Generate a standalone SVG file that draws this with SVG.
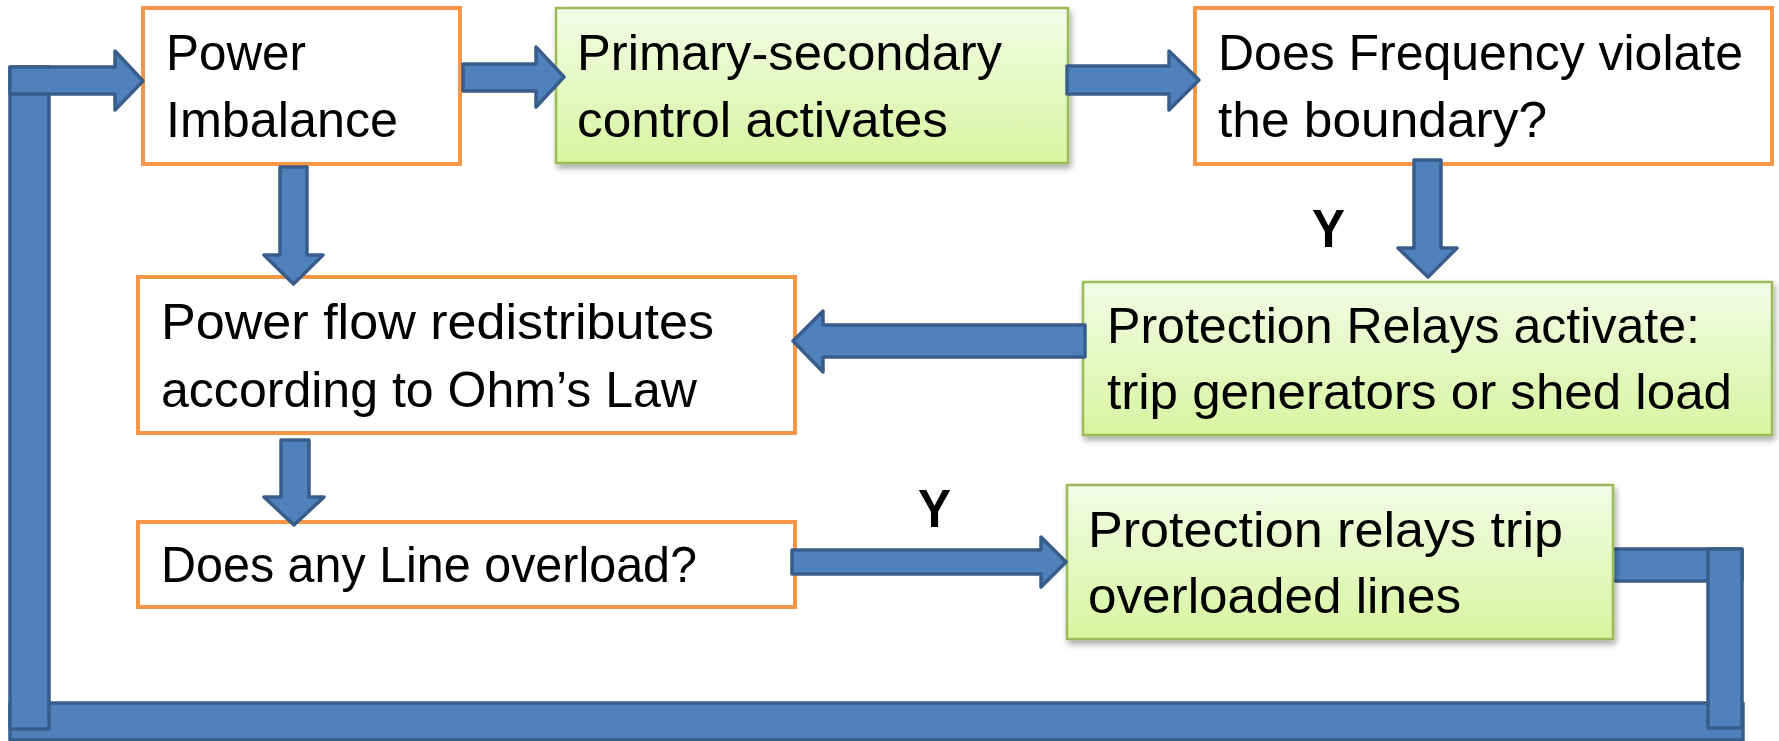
<svg xmlns="http://www.w3.org/2000/svg" width="1779" height="741" viewBox="0 0 1779 741">
<defs>
<linearGradient id="gg" x1="0" y1="0" x2="0" y2="1">
<stop offset="0" stop-color="#F3FBE6"/>
<stop offset="1" stop-color="#D7F5A0"/>
</linearGradient>
<filter id="sh" x="-5%" y="-10%" width="115%" height="130%">
<feGaussianBlur in="SourceAlpha" stdDeviation="3"/>
<feOffset dx="2" dy="4" result="b"/>
<feComponentTransfer><feFuncA type="linear" slope="0.35"/></feComponentTransfer>
<feMerge><feMergeNode/><feMergeNode in="SourceGraphic"/></feMerge>
</filter>
</defs>
<style>
.ob{fill:#FFFFFF;stroke:#F79646;stroke-width:4}
.gb{fill:url(#gg);stroke:#9BBB59;stroke-width:2.5;filter:url(#sh)}
.t{font-family:"Liberation Sans",Arial,sans-serif;font-size:50px;fill:#000000}
.y{font-family:"Liberation Sans",Arial,sans-serif;font-size:54px;font-weight:bold;fill:#000000}
.ar{fill:#4F81BD;stroke:#385D8A;stroke-width:3.5;stroke-linejoin:round}
</style>
<rect width="1779" height="741" fill="#FFFFFF"/>

<g id="loop-bars">
<rect class="ar" x="10" y="703" width="1733" height="37"/>
<rect class="ar" x="10" y="67" width="39" height="662"/>
<rect class="ar" x="1610" y="549" width="132" height="32"/>
<rect class="ar" x="1708" y="549" width="34" height="179"/>
</g>

<g id="node-power-imbalance">
<rect class="ob" x="143" y="8" width="317" height="156"/>
<text class="t" x="166" y="70" textLength="140" lengthAdjust="spacingAndGlyphs">Power</text>
<text class="t" x="166" y="137" textLength="232" lengthAdjust="spacingAndGlyphs">Imbalance</text>
</g>
<g id="node-primary-secondary">
<rect class="gb" x="556" y="8" width="512" height="155"/>
<text class="t" x="577" y="70" textLength="425" lengthAdjust="spacingAndGlyphs">Primary-secondary</text>
<text class="t" x="577" y="137" textLength="371" lengthAdjust="spacingAndGlyphs">control activates</text>
</g>
<g id="node-frequency">
<rect class="ob" x="1195" y="8" width="577" height="156"/>
<text class="t" x="1218" y="70" textLength="525" lengthAdjust="spacingAndGlyphs">Does Frequency violate</text>
<text class="t" x="1218" y="137" textLength="329" lengthAdjust="spacingAndGlyphs">the boundary?</text>
</g>
<g id="node-power-flow">
<rect class="ob" x="138" y="277" width="657" height="156"/>
<text class="t" x="161" y="339" textLength="553" lengthAdjust="spacingAndGlyphs">Power flow redistributes</text>
<text class="t" x="161" y="407" textLength="536" lengthAdjust="spacingAndGlyphs">according to Ohm’s Law</text>
</g>
<g id="node-relays-activate">
<rect class="gb" x="1083" y="282" width="689" height="153"/>
<text class="t" x="1107" y="343" textLength="593" lengthAdjust="spacingAndGlyphs">Protection Relays activate:</text>
<text class="t" x="1107" y="409" textLength="625" lengthAdjust="spacingAndGlyphs">trip generators or shed load</text>
</g>
<g id="node-line-overload">
<rect class="ob" x="138" y="522" width="657" height="85"/>
<text class="t" x="161" y="582" textLength="536" lengthAdjust="spacingAndGlyphs">Does any Line overload?</text>
</g>
<g id="node-relays-trip">
<rect class="gb" x="1067" y="485" width="546" height="154"/>
<text class="t" x="1088" y="547" textLength="475" lengthAdjust="spacingAndGlyphs">Protection relays trip</text>
<text class="t" x="1088" y="613" textLength="373" lengthAdjust="spacingAndGlyphs">overloaded lines</text>
</g>

<g id="connectors">
<polygon class="ar" points="10,67 115,67 115,51 143,81 115,110 115,94 10,94"/>
<polygon class="ar" points="463,64 536,64 536,47 564,77 536,107 536,91 463,91"/>
<polygon class="ar" points="1067,66 1169,66 1169,51 1199,80 1169,110 1169,94 1067,94"/>
<polygon class="ar" points="280,167 307,167 307,255 323,255 293.5,284 264,255 280,255"/>
<polygon class="ar" points="1414,160 1441,160 1441,248 1457,248 1428,277 1398,248 1414,248"/>
<polygon class="ar" points="1085,325 1085,357 823,357 823,372 793,341 823,311 823,325"/>
<polygon class="ar" points="281,440 309,440 309,497 324,497 294,525 264,497 281,497"/>
<polygon class="ar" points="792,550 1041,550 1041,537 1066,562 1041,587 1041,574 792,574"/>
<text class="y" x="1312" y="247" textLength="33" lengthAdjust="spacingAndGlyphs">Y</text>
<text class="y" x="918" y="527" textLength="33" lengthAdjust="spacingAndGlyphs">Y</text>
</g>
</svg>
